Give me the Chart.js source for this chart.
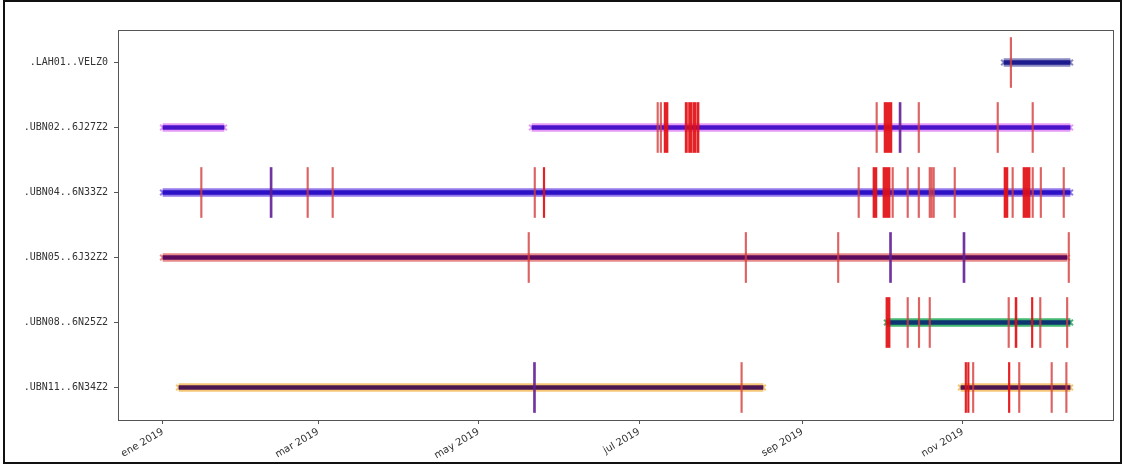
<!DOCTYPE html>
<html>
<head>
<meta charset="utf-8">
<script src="https://cdn.jsdelivr.net/npm/chart.js@4"></script>
<style>
  html, body { margin: 0; padding: 0; background: #fff; }
  #wrap { position: relative; width: 1124px; height: 465px; }
  #frame { position: absolute; left: 3px; top: 0; width: 1119px; height: 464px;
           border: 2px solid #111; box-sizing: border-box; pointer-events: none; }
</style>
</head>
<body>
<div id="wrap">
  <canvas id="avail" width="1124" height="465"></canvas>
  <div id="frame"></div>
</div>
<script>
// stations, top to bottom
var stations = ['.LAH01..VELZ0', '.UBN02..6J27Z2', '.UBN04..6N33Z2',
                '.UBN05..6J32Z2', '.UBN08..6N25Z2', '.UBN11..6N34Z2'];

// data segments [from, to] per station
var segments = [
  [['2019-11-16T14:00', '2019-12-11T17:00']],
  [['2019-01-01T00:00', '2019-01-24T05:00'], ['2019-05-21T05:00', '2019-12-11T17:00']],
  [['2019-01-01T00:00', '2019-12-11T17:00']],
  [['2019-01-01T00:00', '2019-12-10T12:00']],
  [['2019-10-03T02:00', '2019-12-11T17:00']],
  [['2019-01-07T02:00', '2019-08-17T00:00'], ['2019-10-31T05:00', '2019-12-11T17:00']]
];

// gaps: single time = short gap, pair = long gap
var gaps = [
  ['2019-11-18T22:00'],
  ['2019-07-07T17:00', '2019-07-08T22:00', ['2019-07-10T10:00', '2019-07-11T22:00'],
   ['2019-07-18T10:00', '2019-07-19T07:00'], ['2019-07-19T17:00', '2019-07-21T02:00'],
   ['2019-07-21T10:00', '2019-07-22T14:00'], ['2019-07-22T22:00', '2019-07-23T17:00'],
   '2019-09-28T22:00', ['2019-10-02T00:00', '2019-10-05T00:00'], '2019-10-14T22:00',
   '2019-11-13T22:00', '2019-11-27T05:00'],
  ['2019-01-15T07:00', '2019-02-24T17:00', '2019-03-06T05:00', '2019-05-22T00:00',
   ['2019-05-25T12:00', '2019-05-26T02:00'], '2019-09-22T02:00',
   ['2019-09-27T19:00', '2019-09-29T07:00'], ['2019-10-01T14:00', '2019-10-04T07:00'],
   '2019-10-05T00:00', '2019-10-10T17:00', '2019-10-14T22:00', '2019-10-19T02:00',
   '2019-10-19T19:00', '2019-10-20T14:00', '2019-10-28T14:00',
   ['2019-11-16T14:00', '2019-11-18T02:00'], '2019-11-19T14:00',
   ['2019-11-23T19:00', '2019-11-26T12:00'], '2019-11-27T05:00', '2019-11-30T07:00',
   '2019-12-09T00:00'],
  ['2019-05-19T17:00', '2019-08-10T05:00', '2019-09-14T07:00', '2019-12-10T22:00'],
  [['2019-10-02T17:00', '2019-10-04T07:00'], '2019-10-10T17:00', '2019-10-15T00:00',
   '2019-10-19T02:00', '2019-11-18T02:00', ['2019-11-20T19:00', '2019-11-21T12:00'],
   ['2019-11-27T00:00', '2019-11-27T12:00'], '2019-11-30T02:00', '2019-12-10T07:00'],
  ['2019-08-08T14:00', ['2019-11-01T19:00', '2019-11-02T08:00'],
   ['2019-11-02T18:00', '2019-11-03T07:00'], '2019-11-04T14:00',
   ['2019-11-18T06:00', '2019-11-18T20:00'], '2019-11-22T02:00', '2019-12-04T10:00',
   '2019-12-10T00:00']
];

// overlaps
var overlaps = [
  [],
  ['2019-10-07T17:00'],
  ['2019-02-10T17:00'],
  ['2019-10-04T02:00', '2019-11-01T00:00'],
  [],
  ['2019-05-21T19:00']
];

var tickDates = ['2019-01-01T00:00', '2019-03-01T00:00', '2019-05-01T00:00',
                 '2019-07-01T00:00', '2019-09-01T00:00', '2019-11-01T00:00'];
var tickLabels = ['ene 2019', 'mar 2019', 'may 2019', 'jul 2019', 'sep 2019', 'nov 2019'];

var coreColors = ['#1c1c8e', '#4a12c9', '#2b12c4', '#5b0b5e', '#0d3572', '#4c1650'];
var edgeColors = ['#8a8ac0', '#e69af7', '#9479ea', '#e98a8a', '#42b870', '#f6c677'];

function ms(s) { return Date.parse(s + ':00Z'); }

var segData = [], endData = [], gapData = [], ovlData = [];
stations.forEach(function(st, i) {
    segments[i].forEach(function(seg) {
        segData.push({x: [ms(seg[0]), ms(seg[1])], y: st});
        endData.push({x: ms(seg[0]), y: st});
        endData.push({x: ms(seg[1]), y: st});
    });
    gaps[i].forEach(function(g) {
        var a = Array.isArray(g) ? g[0] : g;
        var b = Array.isArray(g) ? g[1] : g;
        gapData.push({x: [ms(a), ms(b)], y: st});
    });
    overlaps[i].forEach(function(o) {
        ovlData.push({x: [ms(o), ms(o)], y: st});
    });
});

function colorOf(list) {
    return function(ctx) {
        if (!ctx.raw) return list[0];
        return list[stations.indexOf(ctx.raw.y)];
    };
}

// long gaps solid red, short ones lighter
function gapColor(ctx) {
    if (!ctx.raw) return 'rgba(222,16,20,0.9)';
    var span = ctx.raw.x[1] - ctx.raw.x[0];
    return span > 0 ? 'rgba(226,14,18,0.92)' : 'rgba(212,60,60,0.8)';
}

var framePlugin = {
    id: 'frame',
    afterDraw: function(chart) {
        var a = chart.chartArea, c = chart.ctx;
        c.save();
        c.strokeStyle = '#555';
        c.lineWidth = 1;
        c.strokeRect(a.left + 0.5, a.top + 0.5, a.right - a.left, a.bottom - a.top);
        c.restore();
    }
};

var ctx = document.getElementById('avail').getContext('2d');
new Chart(ctx, {
    type: 'bar',
    data: {
        datasets: [
            {type: 'bar', indexAxis: 'y', grouped: false, order: 0, data: gapData,
             barThickness: 50, minBarLength: 1.5, backgroundColor: gapColor},
            {type: 'bar', indexAxis: 'y', grouped: false, order: 1, data: ovlData,
             barThickness: 50, minBarLength: 2, backgroundColor: 'rgba(98,30,150,0.9)'},
            {type: 'bar', indexAxis: 'y', grouped: false, order: 2, data: segData,
             barThickness: 4, backgroundColor: colorOf(coreColors)},
            {type: 'scatter', order: 3, data: endData, pointStyle: 'crossRot',
             pointRadius: 4, borderWidth: 2, borderColor: colorOf(edgeColors),
             backgroundColor: colorOf(edgeColors)},
            {type: 'bar', indexAxis: 'y', grouped: false, order: 4, data: segData,
             barThickness: 8, backgroundColor: colorOf(edgeColors)}
        ]
    },
    options: {
        responsive: false,
        animation: false,
        layout: {padding: {top: 30, right: 11, left: 0, bottom: 0}},
        plugins: {legend: {display: false}, tooltip: {enabled: false}},
        scales: {
            x: {
                type: 'linear',
                offset: false,
                min: ms('2018-12-14T22:00'),
                max: ms('2019-12-28T00:00'),
                afterBuildTicks: function(scale) {
                    scale.ticks = tickDates.map(function(d) { return {value: ms(d)}; });
                },
                afterFit: function(scale) { scale.height = 45; },
                border: {display: false},
                grid: {offset: false, drawOnChartArea: false, drawTicks: true, tickLength: 4, color: '#555'},
                ticks: {
                    autoSkip: false, minRotation: 30, maxRotation: 30, padding: 2,
                    color: '#333', font: {family: 'DejaVu Sans', size: 10},
                    callback: function(v) {
                        var k = tickDates.map(ms).indexOf(v);
                        return k >= 0 ? tickLabels[k] : '';
                    }
                }
            },
            y: {
                type: 'category',
                labels: stations,
                offset: true,
                afterFit: function(scale) { scale.width = 118; },
                border: {display: false},
                grid: {offset: false, drawOnChartArea: false, drawTicks: true, tickLength: 4, color: '#555'},
                ticks: {padding: 6, color: '#333', font: {family: 'DejaVu Sans Mono', size: 10}}
            }
        }
    },
    plugins: [framePlugin]
});
</script>
</body>
</html>
